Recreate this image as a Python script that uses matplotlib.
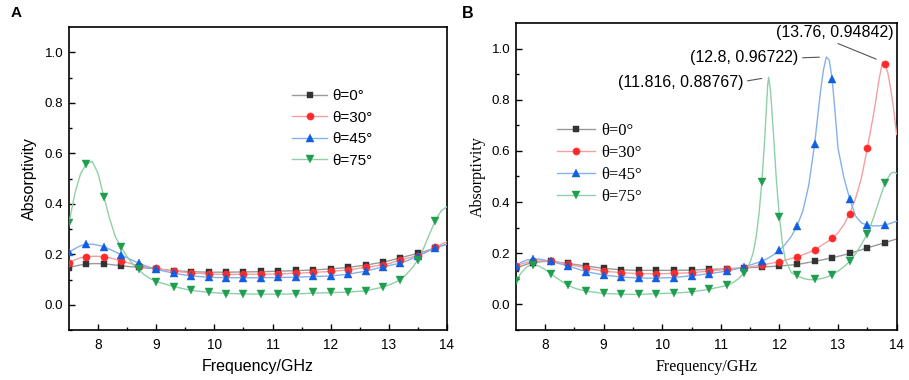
import matplotlib
matplotlib.use("Agg")
import matplotlib.pyplot as plt
from matplotlib.ticker import FixedLocator

# ---------------- data ----------------
labels = ["θ=0°", "θ=30°", "θ=45°", "θ=75°"]

# marker positions (both panels)
mk_x = [7.5, 7.8, 8.1, 8.4, 8.7, 9.0, 9.3, 9.6, 9.9, 10.2, 10.5, 10.8, 11.1,
        11.4, 11.7, 12.0, 12.3, 12.6, 12.9, 13.2, 13.5, 13.8]

# Panel A markers
A_mk0 = [0.147, 0.160, 0.163, 0.155, 0.149, 0.142, 0.134, 0.130, 0.129, 0.129, 0.130, 0.132, 0.133,
         0.136, 0.138, 0.143, 0.149, 0.158, 0.170, 0.186, 0.204, 0.226]
A_mk30 = [0.167, 0.190, 0.190, 0.174, 0.155, 0.145, 0.132, 0.125, 0.121, 0.120, 0.121, 0.121, 0.122,
          0.125, 0.128, 0.132, 0.138, 0.149, 0.158, 0.178, 0.195, 0.228]
A_mk45 = [0.208, 0.240, 0.230, 0.197, 0.165, 0.140, 0.125, 0.114, 0.109, 0.107, 0.107, 0.107, 0.108,
          0.109, 0.112, 0.114, 0.122, 0.134, 0.151, 0.165, 0.193, 0.224]
A_mk75 = [0.325, 0.557, 0.428, 0.230, 0.140, 0.092, 0.072, 0.057, 0.049, 0.043, 0.041, 0.041, 0.041,
          0.042, 0.049, 0.049, 0.049, 0.055, 0.072, 0.100, 0.178, 0.333]

# Panel A lines
A_lx = [7.5, 7.6, 7.7, 7.8, 7.9, 8.0, 8.1, 8.2, 8.3, 8.4, 8.5, 8.6, 8.7, 8.8, 8.9, 9.0,
        9.3, 9.6, 9.9, 10.2, 10.5, 10.8, 11.1, 11.4, 11.7, 12.0, 12.3, 12.6, 12.9,
        13.0, 13.1, 13.2, 13.3, 13.4, 13.5, 13.6, 13.7, 13.8, 13.9, 14.0]
A_l0 = [0.147, 0.153, 0.158, 0.161, 0.163, 0.163, 0.162, 0.160, 0.157, 0.155, 0.152, 0.150, 0.148, 0.146, 0.144, 0.142,
        0.135, 0.131, 0.129, 0.129, 0.130, 0.131, 0.133, 0.135, 0.138, 0.142, 0.148, 0.157, 0.169,
        0.174, 0.180, 0.186, 0.192, 0.198, 0.204, 0.210, 0.218, 0.226, 0.233, 0.240]
A_l30 = [0.167, 0.178, 0.186, 0.190, 0.192, 0.192, 0.190, 0.186, 0.180, 0.174, 0.167, 0.161, 0.155, 0.151, 0.148, 0.145,
         0.133, 0.126, 0.122, 0.120, 0.121, 0.121, 0.122, 0.125, 0.128, 0.132, 0.138, 0.148, 0.158,
         0.163, 0.170, 0.177, 0.183, 0.189, 0.196, 0.205, 0.216, 0.228, 0.240, 0.250]
A_l45 = [0.208, 0.222, 0.234, 0.240, 0.240, 0.236, 0.230, 0.220, 0.209, 0.197, 0.186, 0.175, 0.165, 0.156, 0.147, 0.140,
         0.125, 0.114, 0.109, 0.107, 0.107, 0.107, 0.108, 0.109, 0.112, 0.114, 0.121, 0.133, 0.150,
         0.155, 0.160, 0.165, 0.173, 0.183, 0.193, 0.203, 0.214, 0.224, 0.233, 0.240]
A_l75 = [0.323, 0.440, 0.520, 0.558, 0.568, 0.520, 0.428, 0.340, 0.268, 0.226, 0.190, 0.160, 0.138, 0.118, 0.103, 0.092,
         0.072, 0.057, 0.049, 0.045, 0.043, 0.042, 0.042, 0.043, 0.046, 0.048, 0.050, 0.055, 0.070,
         0.078, 0.088, 0.100, 0.120, 0.145, 0.178, 0.225, 0.280, 0.333, 0.372, 0.388]

# Panel B markers
B_mk0 = [0.139, 0.163, 0.168, 0.160, 0.150, 0.141, 0.135, 0.133, 0.133, 0.133, 0.134, 0.137, 0.139,
         0.143, 0.146, 0.150, 0.156, 0.168, 0.182, 0.199, 0.221, 0.241]
B_mk30 = [0.150, 0.169, 0.169, 0.156, 0.143, 0.130, 0.124, 0.120, 0.120, 0.121, 0.124, 0.130, 0.137,
          0.143, 0.154, 0.167, 0.185, 0.212, 0.258, 0.355, 0.610, 0.938]
B_mk45 = [0.152, 0.177, 0.168, 0.150, 0.128, 0.115, 0.107, 0.103, 0.103, 0.105, 0.112, 0.120, 0.130,
          0.146, 0.169, 0.212, 0.306, 0.625, 0.880, 0.412, 0.310, 0.310]
B_mk75 = [0.091, 0.154, 0.120, 0.074, 0.052, 0.043, 0.040, 0.039, 0.042, 0.044, 0.049, 0.059, 0.074,
          0.124, 0.478, 0.342, 0.115, 0.098, 0.116, 0.168, 0.276, 0.475]

# Panel B lines
B_lx0 = [7.5, 7.6, 7.7, 7.8, 7.9, 8.0, 8.1, 8.2, 8.3, 8.4, 8.7, 9.0, 9.3, 9.6, 9.9, 10.2, 10.5,
         10.8, 11.1, 11.4, 11.7, 12.0, 12.3, 12.6, 12.9, 13.2, 13.5, 13.8, 14.0]
B_l0 = [0.139, 0.150, 0.158, 0.163, 0.166, 0.168, 0.168, 0.166, 0.163, 0.160, 0.150, 0.141, 0.135, 0.133, 0.133, 0.133, 0.134,
        0.137, 0.139, 0.143, 0.146, 0.150, 0.156, 0.168, 0.182, 0.199, 0.221, 0.241, 0.256]
B_lx30 = [7.5, 7.6, 7.7, 7.8, 7.9, 8.0, 8.1, 8.2, 8.3, 8.4, 8.7, 9.0, 9.3, 9.6, 9.9, 10.2, 10.5, 10.8,
          11.1, 11.4, 11.7, 12.0, 12.3, 12.6, 12.9, 13.0, 13.1, 13.2, 13.3, 13.4, 13.5, 13.6, 13.65, 13.7,
          13.76, 13.8, 13.85, 13.9, 13.95, 14.0]
B_l30 = [0.150, 0.158, 0.165, 0.169, 0.170, 0.170, 0.169, 0.166, 0.161, 0.156, 0.143, 0.130, 0.124, 0.120, 0.120, 0.121, 0.124, 0.130,
         0.137, 0.143, 0.154, 0.167, 0.185, 0.212, 0.258, 0.280, 0.312, 0.355, 0.415, 0.495, 0.610, 0.735, 0.805, 0.880,
         0.948, 0.940, 0.905, 0.840, 0.760, 0.664]
B_lx45 = [7.5, 7.6, 7.7, 7.8, 7.9, 8.0, 8.1, 8.2, 8.3, 8.4, 8.7, 9.0, 9.3, 9.6, 9.9, 10.2, 10.5, 10.8,
          11.1, 11.4, 11.7, 11.8, 11.9, 12.0, 12.1, 12.2, 12.3, 12.4, 12.5, 12.6, 12.7, 12.75, 12.8, 12.85,
          12.9, 12.95, 13.0, 13.1, 13.2, 13.3, 13.4, 13.5, 13.6, 13.7, 13.8, 13.9, 14.0]
B_l45 = [0.152, 0.165, 0.174, 0.177, 0.177, 0.173, 0.168, 0.162, 0.156, 0.150, 0.128, 0.115, 0.107, 0.103, 0.103, 0.105, 0.112, 0.120,
         0.130, 0.146, 0.169, 0.180, 0.194, 0.212, 0.235, 0.265, 0.306, 0.365, 0.465, 0.625, 0.830, 0.915, 0.967, 0.955,
         0.880, 0.750, 0.610, 0.495, 0.412, 0.345, 0.318, 0.310, 0.307, 0.307, 0.310, 0.317, 0.325]
B_lx75 = [7.5, 7.6, 7.7, 7.8, 7.9, 8.0, 8.1, 8.2, 8.3, 8.4, 8.5, 8.6, 8.7, 9.0, 9.3, 9.6, 9.9, 10.2, 10.5,
          10.8, 11.1, 11.2, 11.3, 11.4, 11.5, 11.55, 11.6, 11.65, 11.7, 11.75, 11.8, 11.816, 11.85, 11.9,
          11.95, 12.0, 12.05, 12.1, 12.2, 12.3, 12.4, 12.5, 12.6, 12.7, 12.8, 12.9, 13.0, 13.1, 13.2, 13.3,
          13.4, 13.5, 13.6, 13.7, 13.8, 13.9, 13.95, 14.0]
B_l75 = [0.091, 0.125, 0.148, 0.156, 0.150, 0.136, 0.120, 0.103, 0.088, 0.074, 0.064, 0.057, 0.052, 0.043, 0.040, 0.039, 0.042, 0.044, 0.049,
         0.059, 0.074, 0.084, 0.100, 0.124, 0.165, 0.200, 0.260, 0.350, 0.478, 0.650, 0.860, 0.888, 0.830, 0.660,
         0.480, 0.342, 0.240, 0.175, 0.125, 0.112, 0.102, 0.097, 0.097, 0.100, 0.106, 0.116, 0.130, 0.147, 0.168, 0.198,
         0.235, 0.276, 0.335, 0.405, 0.475, 0.512, 0.517, 0.512]

peaks_x = [11.816, 12.8, 13.76]
peaks_y = [0.88767, 0.96722, 0.94842]
peak_text = ["(11.816, 0.88767)", "(12.8, 0.96722)", "(13.76, 0.94842)"]

xtick_vals = [8, 9, 10, 11, 12, 13, 14]
xtick_text = ["8", "9", "10", "11", "12", "13", "14"]
ytick_vals = [0.0, 0.2, 0.4, 0.6, 0.8, 1.0]
ytick_text = ["0.0", "0.2", "0.4", "0.6", "0.8", "1.0"]

# ---------------- style ----------------
marker_cols = ["#333333", "#ff2a2a", "#0f5fe0", "#1e9e4e"]
line_cols = ["#9a9a9a", "#f4a0a0", "#86b0ec", "#8fd0a8"]
markers = ["s", "o", "^", "v"]
msizes = [4.3, 5.2, 5.8, 5.8]

SANS = "Liberation Sans"
SERIF = "Liberation Serif"

fig = plt.figure(figsize=(9.09, 3.80), dpi=100)
axA = fig.add_axes([0.0759, 0.1316, 0.4158, 0.797])
axB = fig.add_axes([0.5673, 0.1316, 0.4191, 0.808])


def draw(ax, lines, marks, lfont, tickfont, labfont, leg_anchor, leg_size, leg_space, ylpad):
    handles = []
    for i in range(4):
        lx, ly = lines[i]
        ax.plot(lx, ly, color=line_cols[i], lw=1.0, zorder=2 + i)
        ax.plot(mk_x, marks[i], ls="none", marker=markers[i], ms=msizes[i],
                color=marker_cols[i], mec=marker_cols[i], mew=0.3, zorder=6 + i)
        h, = ax.plot([], [], color=line_cols[i], lw=1.0, marker=markers[i],
                     ms=msizes[i], mfc=marker_cols[i], mec=marker_cols[i], mew=0.3)
        handles.append(h)
    ax.set_xlim(7.5, 14)
    ax.set_ylim(-0.1, 1.1)
    ax.xaxis.set_major_locator(FixedLocator(xtick_vals))
    ax.xaxis.set_minor_locator(FixedLocator([8.5, 9.5, 10.5, 11.5, 12.5, 13.5]))
    ax.yaxis.set_major_locator(FixedLocator(ytick_vals))
    ax.yaxis.set_minor_locator(FixedLocator([-0.1, 0.1, 0.3, 0.5, 0.7, 0.9]))
    ax.tick_params(which="both", direction="in", top=False, right=False, width=1.0)
    ax.tick_params(which="major", length=4.5)
    ax.tick_params(which="minor", length=2.5)
    ax.tick_params(axis="x", pad=5.5)
    ax.tick_params(axis="y", pad=4)
    ax.set_xticklabels(xtick_text, family=tickfont, fontsize=9.8)
    ax.set_yticklabels(ytick_text, family=tickfont, fontsize=9.6)
    for s in ax.spines.values():
        s.set_linewidth(1.2)
    ax.set_xlabel("Frequency/GHz", family=labfont, fontsize=11.5, labelpad=5)
    ax.set_ylabel("Absorptivity", family=labfont, fontsize=11.5, labelpad=ylpad)
    ax.legend(handles, labels, loc="upper left", bbox_to_anchor=leg_anchor,
              frameon=False, borderaxespad=0, borderpad=0, handlelength=2.3,
              handletextpad=0.35, labelspacing=leg_space,
              prop={"family": lfont, "size": leg_size})


draw(axA, [(A_lx, A_l0), (A_lx, A_l30), (A_lx, A_l45), (A_lx, A_l75)],
     [A_mk0, A_mk30, A_mk45, A_mk75], SANS, SANS, SANS, (0.59, 0.795), 11, 0.49, 6)
draw(axB, [(B_lx0, B_l0), (B_lx30, B_l30), (B_lx45, B_l45), (B_lx75, B_l75)],
     [B_mk0, B_mk30, B_mk45, B_mk75], SERIF, SANS, SERIF, (0.108, 0.675), 12, 0.37, 4)

# annotations in panel B (offsets in pixels from the peak point)
offsets = [(-88, -5), (-82, -1), (-48, 29)]
relpos = [(1.0, 0.55), (1.0, 0.5), (0.46, 0.0)]
for px, py, t, off, rp in zip(peaks_x, peaks_y, peak_text, offsets, relpos):
    axB.annotate(t, xy=(px, py), xytext=off, textcoords="offset pixels",
                 ha="center", va="center", family=SANS, fontsize=11.5,
                 arrowprops=dict(arrowstyle="-", color="#555555", lw=0.8,
                                 relpos=rp, shrinkA=1, shrinkB=5), zorder=20)

fig.text(11 / 909, 1 - 6 / 380, "A", family=SANS, fontsize=11, fontweight="bold", va="top", ha="left")
fig.text(462 / 909, 1 - 6 / 380, "B", family=SANS, fontsize=11.5, fontweight="bold", va="top", ha="left")

fig.savefig("out.png", dpi=100)
